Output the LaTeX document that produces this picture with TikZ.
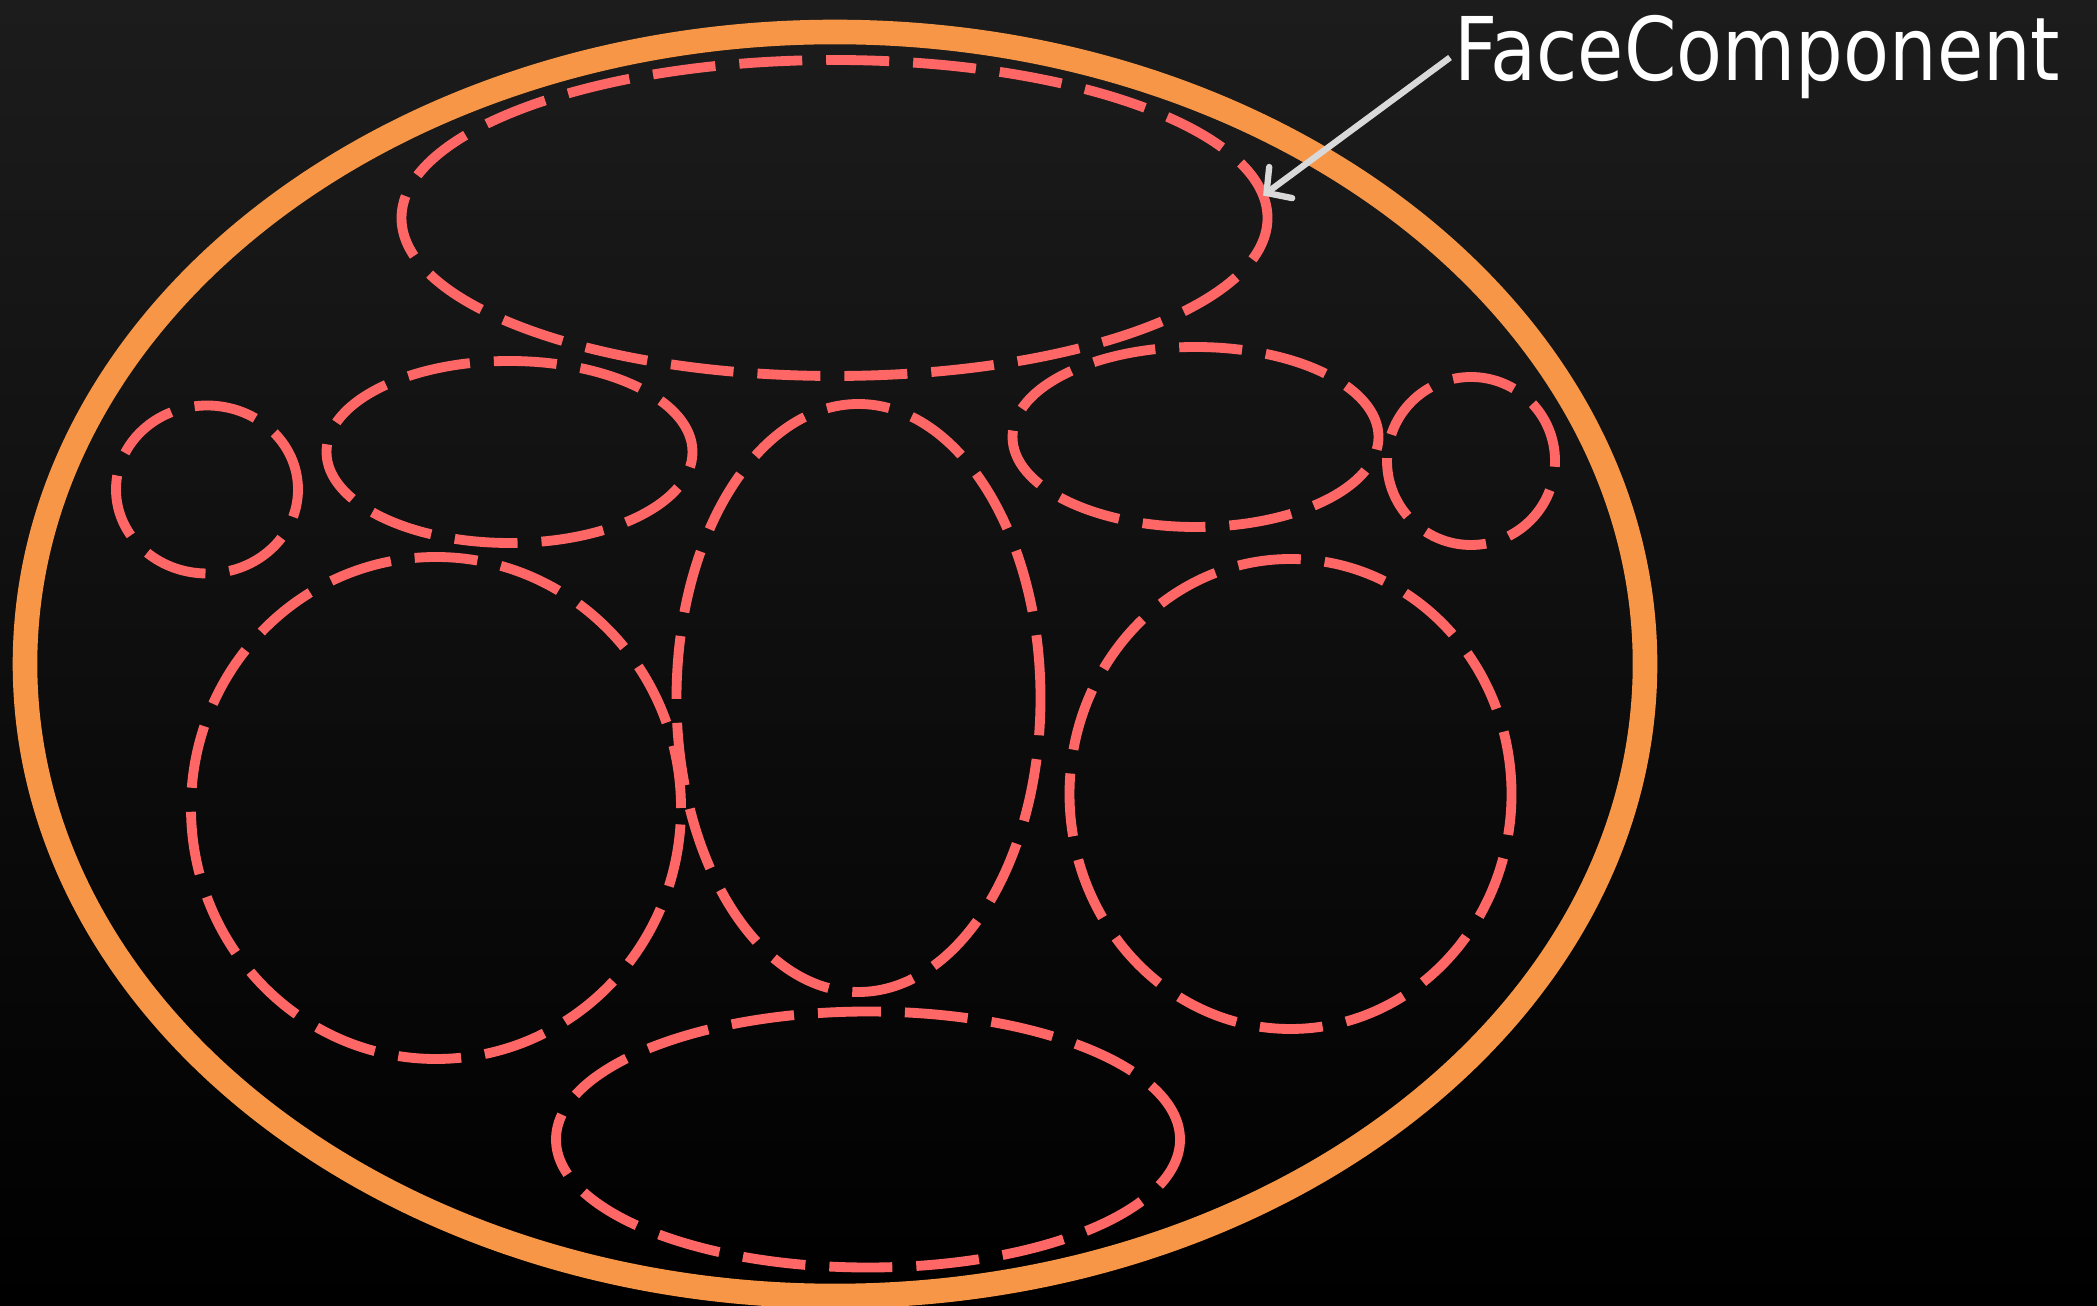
\documentclass[tikz,border=0pt]{standalone}
\usepackage{fontspec}
\usepackage{xcolor}
\usepackage{tikz}
\usetikzlibrary{shapes.geometric,arrows.meta}

\newfontfamily\facefont[FakeStretch=0.855]{DejaVu Sans}

\definecolor{bgtop}{RGB}{28,28,28}
\definecolor{faceorange}{RGB}{247,150,70}
\definecolor{partred}{RGB}{255,102,102}
\definecolor{pointergray}{RGB}{217,217,217}

\begin{document}
\begin{tikzpicture}[
    part/.style={ellipse, draw=partred, line width=2.8pt, inner sep=0pt, outer sep=0pt,
        dash pattern=on 0.63cm off 0.24cm},
    face/.style={ellipse, draw=faceorange, line width=7pt, inner sep=0pt, outer sep=0pt}
]
    % Background
    \shade[top color=bgtop, bottom color=black] (0,0) rectangle (20.97,13.05);
    \useasboundingbox (0,0) rectangle (20.97,13.05);

    % Outer face outline
    \node[face, minimum width=16.2cm, minimum height=12.64cm] (outline) at (8.35,6.41) {};

    % Face parts
    \foreach \name/\x/\y/\w/\h in {
        forehead/8.345/10.87/8.66/3.16,
        earL/2.07/8.155/1.82/1.68,
        browL/5.095/8.53/3.66/1.82,
        nose/8.585/6.07/3.64/5.88,
        browR/11.955/8.68/3.66/1.80,
        earR/14.71/8.44/1.68/1.68,
        eyeL/4.36/4.97/4.90/5.02,
        eyeR/12.905/5.11/4.42/4.70,
        mouth/8.68/1.655/6.24/2.56}
        \node[part, minimum width=\w cm, minimum height=\h cm] (\name) at (\x,\y) {};

    % Label
    \node[anchor=base west, inner sep=1pt, text=white, font=\facefont\fontsize{25pt}{29pt}\selectfont]
        (label) at (14.50,12.24) {FaceComponent};
    \draw[pointergray, line width=1.8pt, -{Straight Barb[length=5pt, width=11pt, line cap=round]}]
        (label.west) -- (forehead.3);
\end{tikzpicture}
\end{document}
